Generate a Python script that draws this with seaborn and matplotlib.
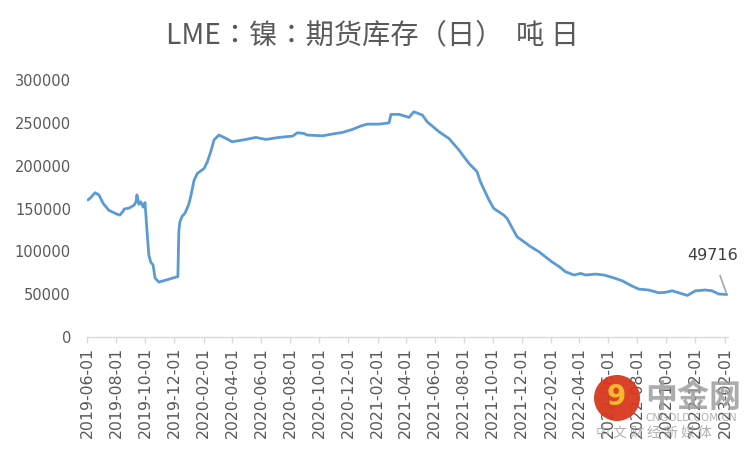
import pandas as pd
import matplotlib.pyplot as plt
import matplotlib.dates as mdates
from matplotlib.patches import Circle
import seaborn as sns

dates = [
    "2019-06-03", "2019-06-09", "2019-06-18", "2019-06-26", "2019-07-05", "2019-07-17",
    "2019-08-03", "2019-08-09", "2019-08-16", "2019-08-18", "2019-08-28", "2019-09-08",
    "2019-09-12", "2019-09-14", "2019-09-18", "2019-09-22", "2019-09-27", "2019-10-01",
    "2019-10-05", "2019-10-09", "2019-10-13", "2019-10-18", "2019-10-22", "2019-10-30",
    "2019-11-14", "2019-12-05", "2019-12-09", "2019-12-11", "2019-12-13", "2019-12-18",
    "2019-12-24", "2020-01-01", "2020-01-05", "2020-01-12", "2020-01-19", "2020-02-02",
    "2020-02-09", "2020-02-16", "2020-02-23", "2020-03-04", "2020-03-15", "2020-04-01",
    "2020-04-30", "2020-05-21", "2020-06-11", "2020-07-09", "2020-08-06", "2020-08-16",
    "2020-08-30", "2020-09-06", "2020-10-08", "2020-11-05", "2020-11-19", "2020-12-10",
    "2020-12-27", "2021-01-10", "2021-02-04", "2021-02-25", "2021-03-01", "2021-03-18",
    "2021-04-08", "2021-04-18", "2021-05-06", "2021-05-16", "2021-06-10", "2021-07-01",
    "2021-07-22", "2021-08-12", "2021-08-29", "2021-09-05", "2021-09-23", "2021-10-03",
    "2021-10-24", "2021-10-31", "2021-11-21", "2021-12-20", "2022-01-06", "2022-02-02",
    "2022-02-17", "2022-03-03", "2022-03-21", "2022-04-04", "2022-04-14", "2022-05-05",
    "2022-05-23", "2022-06-09", "2022-06-30", "2022-07-21", "2022-08-04", "2022-08-25",
    "2022-09-15", "2022-09-29", "2022-10-13", "2022-10-27", "2022-11-14", "2022-12-01",
    "2022-12-22", "2023-01-05", "2023-01-19", "2023-02-05",
]
stock = [
    160000, 163000, 168500, 166000, 156000, 148000,
    143500, 142400, 147000, 149500, 150500, 154000,
    158000, 166000, 155000, 158000, 151700, 157000,
    125000, 95700, 87500, 84000, 69000, 64200,
    66500, 70000, 70500, 122600, 134000, 141000,
    144700, 155000, 164000, 183000, 191000, 196800,
    204600, 216300, 230000, 235800, 233100, 228000,
    230700, 233100, 230700, 233100, 234600, 238500,
    237700, 235800, 235000, 237700, 238900, 242400,
    246300, 248600, 248600, 250100, 260000, 260000,
    256500, 263000, 259200, 251400, 239700, 231800,
    218300, 202700, 193000, 181300, 160000, 150200,
    142400, 138500, 117100, 105400, 99600, 87900,
    82500, 76200, 72400, 74300, 72400, 73500,
    72400, 69700, 65700, 59500, 56000, 54900,
    51700, 52200, 54000, 51700, 48600, 54000,
    54900, 54000, 50200, 49716,
]
title = "LME：镍：期货库存（日）  吨 日"
last_label = "49716"

df = pd.DataFrame({"date": pd.to_datetime(dates), "stock": stock})

sns.set_theme(style="white")
plt.rcParams['font.family'] = ['DejaVu Sans']

fig = plt.figure(figsize=(7.5, 4.5), dpi=100)
ax = fig.add_axes([0.116, 0.251, 0.855, 0.571])

sns.lineplot(data=df, x="date", y="stock", ax=ax, color="#5b9bd5", linewidth=2.0)

ax.set_ylim(0, 300000)
ax.set_yticks(range(0, 300001, 50000))
ax.set_xlim(pd.Timestamp("2019-06-01"), pd.Timestamp("2023-02-08"))
ax.set_xticks(pd.date_range("2019-06-01", "2023-02-01", freq="2MS"))
ax.xaxis.set_major_formatter(mdates.DateFormatter("%Y-%m-%d"))
ax.set_xlabel("")
ax.set_ylabel("")

for s in ["top", "right", "left"]:
    ax.spines[s].set_visible(False)
ax.spines["bottom"].set_color("#d9d9d9")
ax.spines["bottom"].set_linewidth(1.0)
ax.tick_params(axis="x", bottom=True, length=4, width=1, color="#d9d9d9",
               labelsize=11.3, labelcolor="#595959", labelrotation=90, pad=3)
ax.tick_params(axis="y", left=False, length=0, labelsize=10.5, labelcolor="#595959", pad=11.5)

ax.annotate(last_label, xy=(df["date"].iloc[-1], df["stock"].iloc[-1]),
            xytext=(-10, 28), textcoords="offset points", ha="center", va="center",
            fontsize=11.5, color="#404040",
            arrowprops=dict(arrowstyle="-", color="#a6a6a6", lw=1.2, shrinkA=7, shrinkB=1))

fig.text(0.497, 0.922, title, ha="center", va="center", fontsize=20.3, color="#595959",
         family=["Noto Sans CJK JP", "DejaVu Sans"])

# watermark
fig.add_artist(Circle((6.17, 0.52), 0.23, transform=fig.dpi_scale_trans,
                      facecolor="#d9381e", edgecolor="none", alpha=0.95))
fig.text(6.16 / 7.5, 0.53 / 4.5, "9", ha="center", va="center", fontsize=20,
         fontweight="bold", color="#f6b928")
fig.text(0.86, 0.116, "中金网", ha="left", va="center", fontsize=23, fontweight="bold",
         color="#9e9e9e", alpha=0.85, family=["Noto Sans CJK SC"])
fig.text(0.86, 0.071, "CNGOLD.COM.CN", ha="left", va="center", fontsize=7.5,
         color="#9e9e9e", alpha=0.8)
fig.text(0.795, 0.038, "中 文 财 经 新 媒 体", ha="left", va="center", fontsize=10,
         color="#9e9e9e", alpha=0.8, family=["Noto Sans CJK SC"])

plt.savefig("out.png", dpi=100)
